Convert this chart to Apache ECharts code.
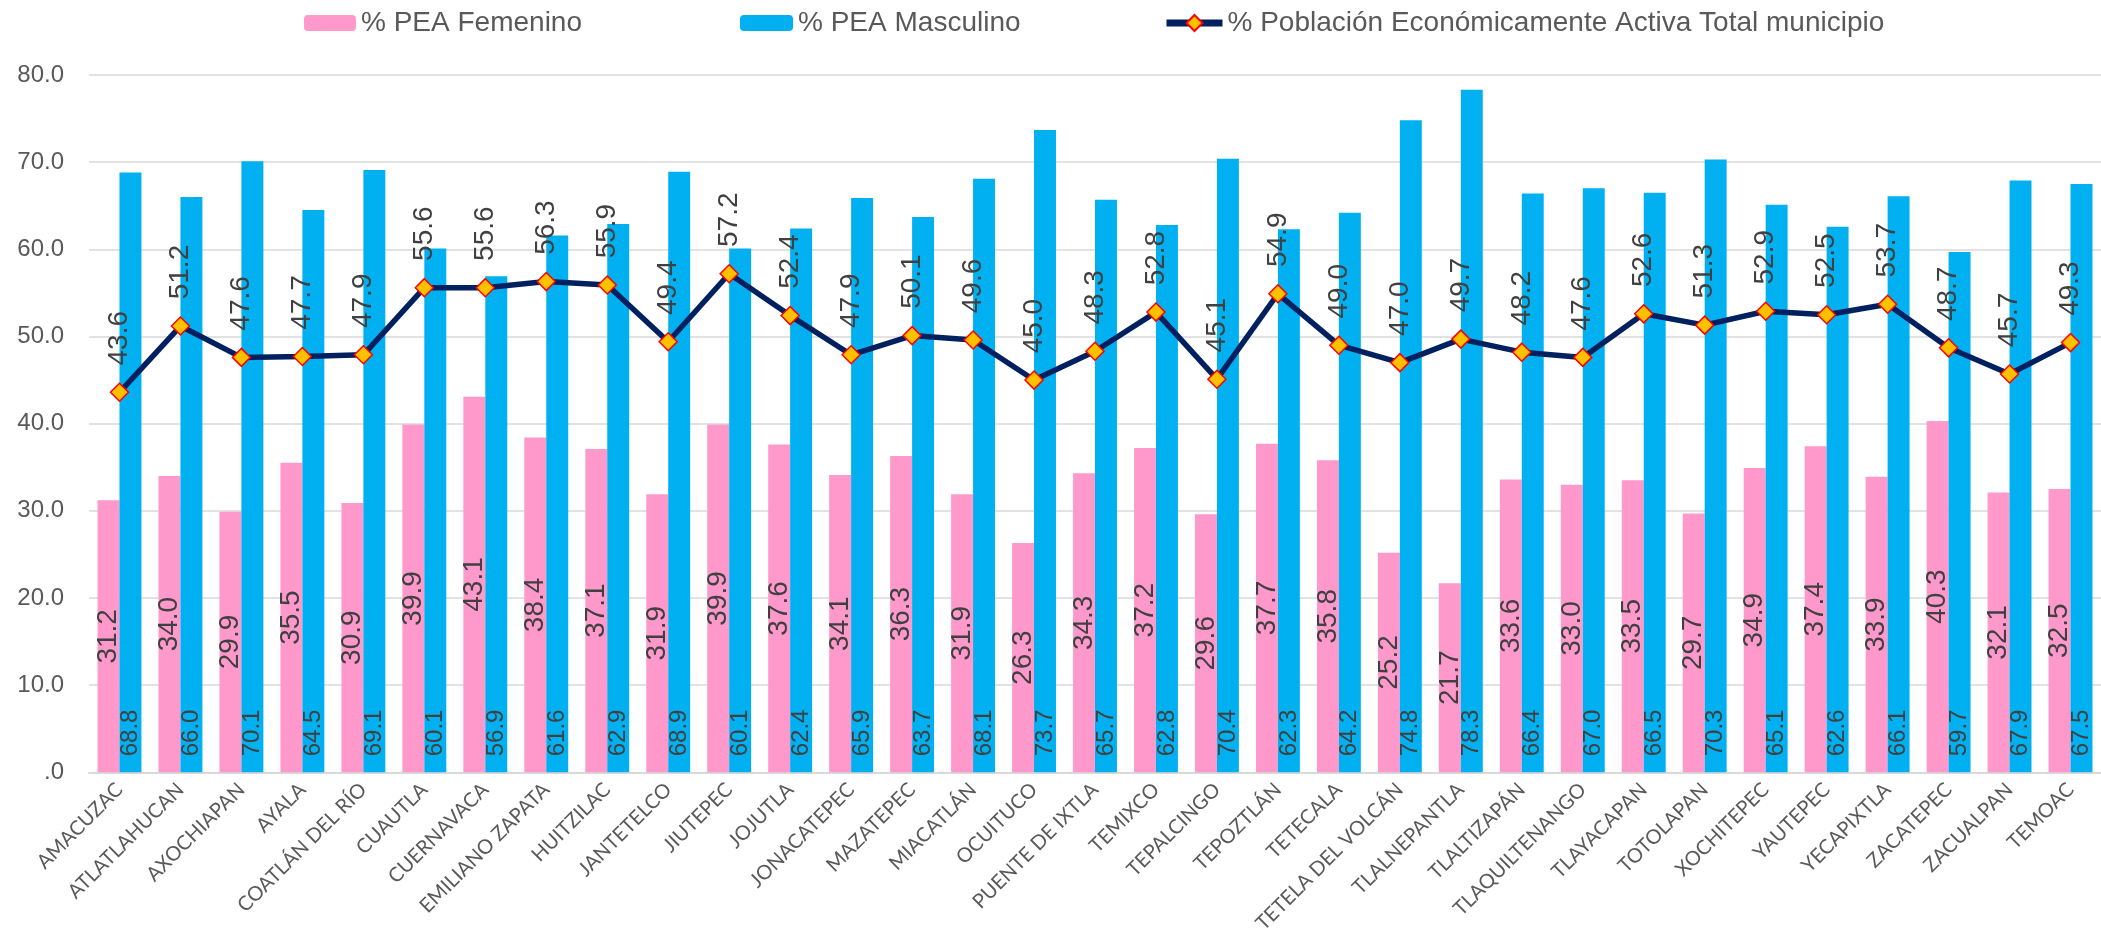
<!DOCTYPE html>
<html>
<head>
<meta charset="utf-8">
<script src="https://cdn.jsdelivr.net/npm/echarts@6/dist/echarts.min.js"></script>
<style>
  html, body { margin: 0; padding: 0; background: #ffffff; }
  #chart { width: 2101px; height: 936px; }
</style>
</head>
<body>
<div id="chart"></div>
<script>
const categories = ['AMACUZAC','ATLATLAHUCAN','AXOCHIAPAN','AYALA','COATLÁN DEL RÍO','CUAUTLA','CUERNAVACA','EMILIANO ZAPATA','HUITZILAC','JANTETELCO','JIUTEPEC','JOJUTLA','JONACATEPEC','MAZATEPEC','MIACATLÁN','OCUITUCO','PUENTE DE IXTLA','TEMIXCO','TEPALCINGO','TEPOZTLÁN','TETECALA','TETELA DEL VOLCÁN','TLALNEPANTLA','TLALTIZAPÁN','TLAQUILTENANGO','TLAYACAPAN','TOTOLAPAN','XOCHITEPEC','YAUTEPEC','YECAPIXTLA','ZACATEPEC','ZACUALPAN','TEMOAC'];
const peaFemenino = [31.2,34.0,29.9,35.5,30.9,39.9,43.1,38.4,37.1,31.9,39.9,37.6,34.1,36.3,31.9,26.3,34.3,37.2,29.6,37.7,35.8,25.2,21.7,33.6,33.0,33.5,29.7,34.9,37.4,33.9,40.3,32.1,32.5];
const peaMasculino = [68.8,66.0,70.1,64.5,69.1,60.1,56.9,61.6,62.9,68.9,60.1,62.4,65.9,63.7,68.1,73.7,65.7,62.8,70.4,62.3,64.2,74.8,78.3,66.4,67.0,66.5,70.3,65.1,62.6,66.1,59.7,67.9,67.5];
const peaTotal = [43.6,51.2,47.6,47.7,47.9,55.6,55.6,56.3,55.9,49.4,57.2,52.4,47.9,50.1,49.6,45.0,48.3,52.8,45.1,54.9,49.0,47.0,49.7,48.2,47.6,52.6,51.3,52.9,52.5,53.7,48.7,45.7,49.3];
const seriesNames = ['% PEA Femenino','% PEA Masculino','% Población Económicamente Activa Total municipio'];

const chart = echarts.init(document.getElementById('chart'), null, {renderer: 'canvas'});
const fmt1 = p => Number(p.value).toFixed(1);
const legendText = {fontFamily: 'Liberation Sans, Arial, sans-serif', fontSize: 28, color: '#595959'};

chart.setOption({
  backgroundColor: '#ffffff',
  animation: false,
  legend: [
    {data: [seriesNames[0]], left: 299, top: 4, itemWidth: 52, itemHeight: 16, itemGap: 0, textStyle: legendText},
    {data: [seriesNames[1]], left: 735, top: 4, itemWidth: 53, itemHeight: 16, itemGap: 0, textStyle: legendText},
    {data: [seriesNames[2]], left: 1158, top: 4, itemWidth: 56, itemHeight: 20, itemGap: 0, textStyle: legendText,
     lineStyle: {width: 7, color: '#002060'}}
  ],
  grid: {left: 89, right: 0, top: 75, bottom: 151, containLabel: false},
  xAxis: {
    type: 'category',
    data: categories,
    axisLine: {show: true, lineStyle: {color: '#d9d9d9', width: 2}},
    axisTick: {show: false},
    axisLabel: {
      interval: 0, rotate: 45, margin: 14,
      fontFamily: 'Lato, Open Sans, sans-serif', fontSize: 20, color: '#595959'
    }
  },
  yAxis: {
    type: 'value', min: 0, max: 80, interval: 10,
    axisLine: {show: false}, axisTick: {show: false},
    splitLine: {lineStyle: {color: '#d9d9d9', width: 1.5}},
    axisLabel: {
      margin: 25, fontFamily: 'Liberation Sans, Arial, sans-serif', fontSize: 24, color: '#595959',
      formatter: v => v === 0 ? '.0' : v.toFixed(1)
    }
  },
  series: [
    {
      name: seriesNames[0], type: 'bar', data: peaFemenino,
      barGap: '0%', barCategoryGap: '28%',
      itemStyle: {color: '#FF99CC'},
      label: {
        show: true, position: 'inside', rotate: 90, align: 'center', verticalAlign: 'middle',
        fontFamily: 'Liberation Sans, Arial, sans-serif', fontSize: 28, color: '#404040',
        formatter: fmt1
      }
    },
    {
      name: seriesNames[1], type: 'bar', data: peaMasculino,
      barGap: '0%', barCategoryGap: '28%',
      itemStyle: {color: '#00B0F0'},
      label: {
        show: true, position: 'insideBottom', distance: 16, rotate: 90, align: 'left', verticalAlign: 'middle',
        fontFamily: 'Liberation Sans, Arial, sans-serif', fontSize: 24, color: '#404040',
        formatter: fmt1
      }
    },
    {
      name: seriesNames[2], type: 'line', data: peaTotal, z: 5,
      symbol: 'diamond', symbolSize: 18,
      lineStyle: {color: '#002060', width: 5.5},
      itemStyle: {color: '#FFC000', borderColor: '#FF0000', borderWidth: 1.5},
      label: {
        show: true, position: 'top', distance: 17, rotate: 90, align: 'left', verticalAlign: 'middle',
        fontFamily: 'Liberation Sans, Arial, sans-serif', fontSize: 28, color: '#404040',
        formatter: fmt1
      }
    }
  ]
});
</script>
</body>
</html>
